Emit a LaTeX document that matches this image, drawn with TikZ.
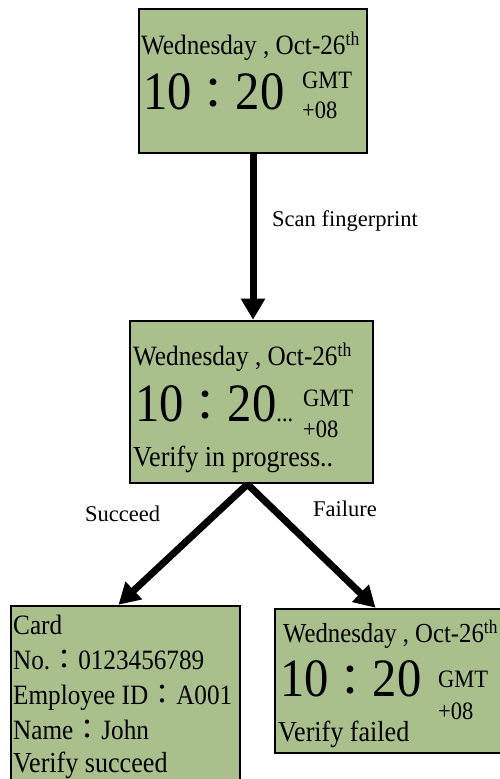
\documentclass[tikz,border=0pt]{standalone}
\usepackage{fontspec}
\setmainfont{Liberation Serif}
\newfontfamily\lcd{Liberation Serif}[FakeStretch=0.9]
\newfontfamily\cjk{Noto Sans CJK TC}
\usetikzlibrary{arrows.meta}
\definecolor{screengreen}{RGB}{169,192,141}
\newcommand{\fwcolon}[1]{{\fontsize{#1}{#1}\cjk ：}}
\newcommand{\fsz}[1]{\fontsize{#1}{#1}\selectfont}
\begin{document}
\begin{tikzpicture}[x=1pt,y=1pt,
  screen/.style={draw=black,line width=2.5pt,fill=screengreen,inner sep=0pt},
  txt/.style={anchor=base west,inner sep=0pt,font=\lcd},
  flow/.style={line width=7pt,-{Triangle[width=23pt,length=21pt]}},
  caption/.style={anchor=base west,inner sep=0pt,font=\fsz{22.5}}]
\useasboundingbox (0,0) rectangle (499,779);
% screens
\node[screen,minimum width=228pt,minimum height=144pt] (idle) at (253,698) {};
\node[screen,minimum width=243pt,minimum height=162pt] (verify) at (251.5,377) {};
\node[screen,minimum width=229pt,minimum height=176pt] (ok) at (125.5,85) {};
\node[screen,minimum width=227pt,minimum height=144pt] (fail) at (388.5,98) {};
% idle screen
\node[txt] (idledate) at (141,724) {\fsz{28}Wednesday , Oct-26\textsuperscript{th}};
\node[txt] (idletime) at (143,669) {\fsz{54}10\fwcolon{44}20};
\node[txt] (idlegmt) at (302,690) {\fsz{25}GMT};
\node[txt] (idlezone) at (302,660) {\fsz{25}+08};
% verify screen
\node[txt] (verifydate) at (133,413) {\fsz{28}Wednesday , Oct-26\textsuperscript{th}};
\node[txt] (verifytime) at (135,357) {\fsz{54}10\fwcolon{44}20{\fsz{25}...}};
\node[txt] (verifygmt) at (303,372) {\fsz{25}GMT};
\node[txt] (verifyzone) at (303,341) {\fsz{25}+08};
\node[txt] (verifymsg) at (133,312) {\fsz{29}Verify in progress..};
% success screen
\node[txt] (okcard) at (13,144) {\fsz{28}Card};
\node[txt] (okno) at (13,109) {\fsz{28}No.\fwcolon{28}0123456789};
\node[txt] (okid) at (13,74) {\fsz{28}Employee ID\fwcolon{28}A001};
\node[txt] (okname) at (13,39) {\fsz{28}Name\fwcolon{28}John};
\node[txt] (okmsg) at (13,6) {\fsz{29}Verify succeed};
% failure screen
\node[txt] (faildate) at (283,136) {\fsz{27.5}Wednesday , Oct-26\textsuperscript{th}};
\node[txt] (failtime) at (280,82) {\fsz{54}10\fwcolon{44}20};
\node[txt] (failgmt) at (438,91) {\fsz{25}GMT};
\node[txt] (failzone) at (438,59) {\fsz{25}+08};
\node[txt] (failmsg) at (278,37) {\fsz{29}Verify failed};
% transitions
\draw[flow] (idle.south) -- (verify.north -| idle.south);
\draw[flow] ([xshift=-4pt]verify.south) -- ([xshift=-7pt]ok.north);
\draw[flow] ([xshift=-4pt]verify.south) -- ([xshift=-13pt]fail.north);
\node[caption] (scan) at (272,552) {Scan fingerprint};
\node[caption] (succeed) at (85,257) {Succeed};
\node[caption] (failure) at (313,262) {Failure};
\end{tikzpicture}
\end{document}
